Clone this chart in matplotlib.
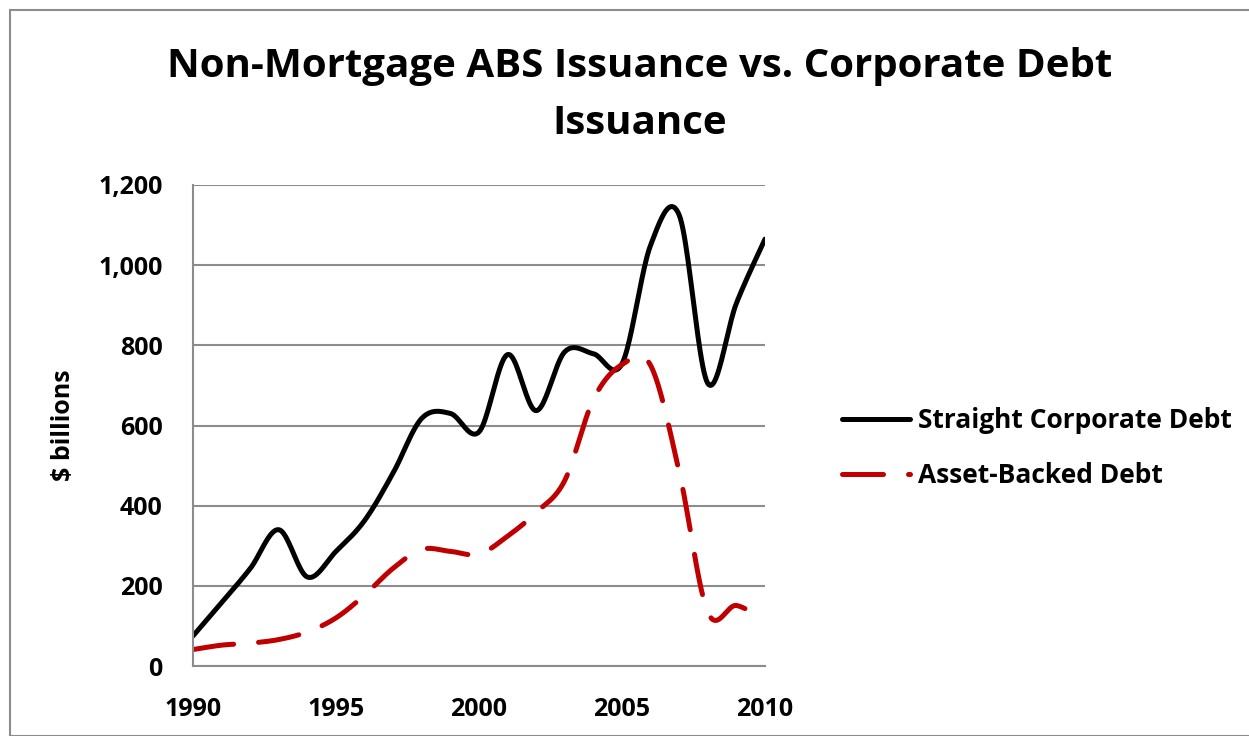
import numpy as np
import matplotlib
matplotlib.use("Agg")
import matplotlib.pyplot as plt
from matplotlib.patches import Rectangle

years = list(range(1990, 2011))
corporate = [75, 158, 243, 340, 222, 286, 363, 482, 618, 630, 584, 777, 637, 784, 779, 754, 1050, 1125, 705, 905, 1065]
asset_backed = [41, 52, 57, 66, 85, 120, 177, 244, 291, 286, 279, 324, 383, 463, 665, 752, 750, 485, 134, 151, 111]
yticks = [0, 200, 400, 600, 800, 1000, 1200]
xticks = [1990, 1995, 2000, 2005, 2010]

plt.rcParams['font.family'] = ['Open Sans', 'DejaVu Sans']
plt.rcParams['font.weight'] = 'bold'


def smooth(x, y, n=24):
    # excel style smoothed line (catmull-rom bezier)
    p = np.column_stack([x, y]).astype(float)
    p = np.vstack([p[0], p, p[-1]])
    out = []
    t = np.linspace(0, 1, n)[:, None]
    for i in range(1, len(p) - 2):
        p0, p1, p2, p3 = p[i - 1], p[i], p[i + 1], p[i + 2]
        b1 = p1 + (p2 - p0) / 6
        b2 = p2 - (p3 - p1) / 6
        seg = ((1 - t) ** 3) * p1 + 3 * ((1 - t) ** 2) * t * b1 + 3 * (1 - t) * t ** 2 * b2 + t ** 3 * p2
        out.append(seg if i == 1 else seg[1:])
    s = np.vstack(out)
    return s[:, 0], s[:, 1]


fig = plt.figure(figsize=(12.49, 7.36), dpi=100)
fig.patches.append(Rectangle((10 / 1249, 0), 1.1, 1 - 10 / 736, transform=fig.transFigure,
                             fill=False, edgecolor='#8c8c8c', linewidth=1.5))
ax = fig.add_axes([193 / 1249, 1 - 666 / 736, (765 - 193) / 1249, (666 - 185) / 736])

xs, ys = smooth(years, corporate)
ax.plot(xs, ys, color='black', linewidth=3.6, solid_capstyle='round', label='Straight Corporate Debt')
xs, ys = smooth(years, asset_backed)
ax.plot(xs, ys, color='#c00000', linewidth=3.6, linestyle=(0, (8.2, 5.0)), dash_capstyle='round',
        label='Asset-Backed Debt')

ax.set_xlim(1990, 2010)
ax.set_ylim(0, 1200)
ax.set_yticks(yticks)
ax.set_yticklabels([f"{v:,}" for v in yticks])
ax.set_xticks(xticks)
ax.tick_params(length=0, labelsize=18, pad=22)
ax.tick_params(axis='x', pad=22)
ax.grid(axis='y', color='#8c8c8c', linewidth=1.5)
ax.set_axisbelow(True)
for side in ['top', 'right']:
    ax.spines[side].set_visible(False)
for side in ['left', 'bottom']:
    ax.spines[side].set_color('#8c8c8c')
    ax.spines[side].set_linewidth(1.5)
ax.set_ylabel('$ billions', fontsize=18, fontweight='bold', labelpad=16)

fig.text(0.512, 1 - 66 / 736, 'Non-Mortgage ABS Issuance vs. Corporate Debt', ha='center', va='center',
         fontsize=29, fontweight='bold')
fig.text(0.512, 1 - 123 / 736, 'Issuance', ha='center', va='center', fontsize=29, fontweight='bold')

fig.legend(loc='center left', bbox_to_anchor=(818 / 1249, 1 - 448 / 736), frameon=False,
           fontsize=19, handlelength=2.6, handletextpad=0.3, labelspacing=1.05)

fig.savefig('out.png', dpi=100)
